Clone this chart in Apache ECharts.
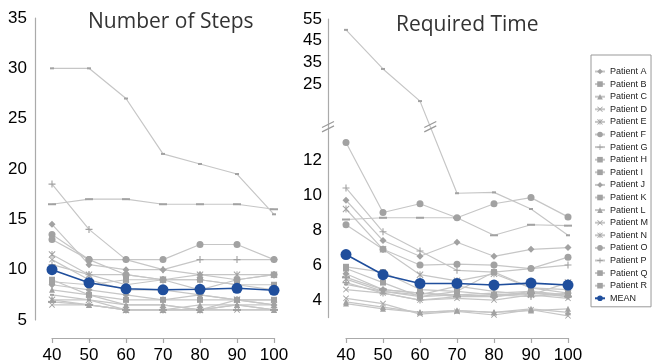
<!DOCTYPE html>
<html lang="en">
<head>
    <meta charset="utf-8">
    <title>Steps and time</title>
    <script src="https://cdn.jsdelivr.net/npm/echarts@6.0.0/dist/echarts.min.js"></script>
</head>
<body style="margin:0; background:#fff;">
<div id="main" style="width: 656px; height: 364px;"></div>
<script type="text/javascript">

    // x positions shared by both panels
    const xValues = [40, 50, 60, 70, 80, 90, 100];

    const patientNames = ['Patient A', 'Patient B', 'Patient C', 'Patient D', 'Patient E', 'Patient F',
        'Patient G', 'Patient H', 'Patient I', 'Patient J', 'Patient K', 'Patient L',
        'Patient M', 'Patient N', 'Patient O', 'Patient P', 'Patient Q', 'Patient R'];

    // Number of Steps, one row per patient (A..R)
    const stepsByPatient = [
        [14.5, 10.5, 10, 10, 9.5, 9, 9.5],
        [9, 7.5, 7, 7, 7, 7, 7],
        [8, 7.5, 6.5, 6.5, 6, 6.5, 6.5],
        [6.5, 6.5, 6, 6, 6, 6, 6],
        [11.5, 9.5, 8.5, 9, 9.5, 9.5, 9.5],
        [13.5, 11, 11, 11, 12.5, 12.5, 11],
        [18.5, 14, 11, 10, 11, 11, 11],
        [30, 30, 27, 21.5, 20.5, 19.5, 15.5],
        [16.5, 17, 17, 16.5, 16.5, 16.5, 16],
        [8.5, 8, 7.5, 7, 7.5, 7, 6.5],
        [8.8, 8.5, 9, 9, 9, 8.5, 8.5],
        [7, 6.5, 6, 6, 6.5, 6.5, 6],
        [11, 9, 8, 8, 7.5, 7, 7],
        [7, 7, 6, 6, 6, 7, 6.5],
        [13, 11, 9.5, 9, 8, 9, 9.5],
        [10.5, 9.5, 9.5, 9, 9, 8.5, 8],
        [7.5, 7, 6.5, 6.5, 6, 6.5, 6],
        [6.8, 6.5, 6, 6, 6, 6, 6]
    ];
    const meanSteps = [10, 8.7, 8.1, 8.0, 8.05, 8.15, 7.95];

    // Required Time, one row per patient (A..R)
    const timeByPatient = [
        [9.7, 7.4, 6.5, 7.3, 6.5, 6.9, 7.0],
        [5.9, 5.6, 4.6, 4.5, 4.3, 4.4, 4.3],
        [3.8, 3.5, 3.3, 3.4, 3.3, 3.4, 3.5],
        [4.1, 3.8, 3.2, 3.35, 3.15, 3.45, 3.1],
        [9.2, 6.9, 5.45, 5.1, 5.5, 4.7, 4.4],
        [13, 9.0, 9.5, 8.7, 9.5, 9.85, 8.75],
        [10.4, 7.9, 6.8, 5.7, 5.6, 5.8, 6.0],
        [50, 32, 17.2, 10.1, 10.15, 9.2, 7.7],
        [8.6, 8.7, 8.7, 8.7, 7.7, 8.3, 8.25],
        [5.5, 4.6, 4.4, 4.3, 4.2, 4.5, 4.2],
        [5.8, 5.0, 4.2, 4.5, 5.6, 4.7, 4.6],
        [3.9, 3.6, 3.3, 3.4, 3.3, 3.5, 3.3],
        [4.6, 4.4, 4.0, 4.1, 4.0, 4.3, 4.1],
        [5.2, 4.5, 4.3, 4.8, 4.5, 4.3, 5.0],
        [8.3, 6.9, 6.0, 6.05, 6.0, 5.8, 6.45],
        [5.0, 4.4, 4.0, 4.2, 4.3, 4.2, 4.4],
        [4.9, 4.5, 4.2, 4.3, 4.4, 4.5, 4.3],
        [5.3, 4.6, 4.4, 4.2, 4.2, 4.4, 4.2]
    ];
    const meanTime = [6.6, 5.45, 4.95, 4.95, 4.86, 4.97, 4.86];

    const stepTicks = [5, 10, 15, 20, 25, 30, 35];
    const timeTicks = [4, 6, 8, 10, 12, 25, 35, 45, 55];

    // broken time axis: above BREAK_LO the scale is squeezed
    const BREAK_LO = 15.1;
    const SQUEEZE = 0.124;
    const BREAK_MARK = 13.9;
    function squeeze(v) {
        return v <= BREAK_LO ? v : BREAK_LO + (v - BREAK_LO) * SQUEEZE;
    }

    const X_ = 'path://M1,0 L10,9 L9,10 L0,1 Z M9,0 L10,1 L1,10 L0,9 Z';
    const STAR = 'path://M1,0 L10,9 L9,10 L0,1 Z M9,0 L10,1 L1,10 L0,9 Z M4.3,0 L5.7,0 L5.7,10 L4.3,10 Z';
    const PLUS = 'path://M4.2,0 L5.8,0 L5.8,10 L4.2,10 Z M0,4.2 L10,4.2 L10,5.8 L0,5.8 Z';
    const markers = [
        ['diamond', 7], ['rect', 6], ['triangle', 6], [X_, 6], [STAR, 7],
        ['circle', 7], [PLUS, 7], ['rect', [4, 2]], ['rect', [8, 2]]
    ];

    const GRID_L = {left: 52, top: 18, width: 222, height: 302};
    const GRID_R = {left: 346, top: 19, width: 222, height: 298.6};
    const labelFont = {fontSize: 17, color: '#000', fontFamily: 'Liberation Sans'};

    function pairs(vals, f) {
        return xValues.map((x, j) => [x, f ? f(vals[j]) : vals[j]]);
    }

    let series = [];
    patientNames.forEach((name, i) => {
        const m = markers[i % 9];
        const base = {
            name: name,
            type: 'line',
            symbol: m[0],
            symbolSize: m[1],
            showSymbol: true,
            lineStyle: {color: '#c6c6c6', width: 1.2},
            itemStyle: {color: '#a2a2a2'},
            emphasis: {disabled: true},
            animation: false
        };
        series.push(Object.assign({}, base, {xAxisIndex: 0, yAxisIndex: 0, data: pairs(stepsByPatient[i])}));
        series.push(Object.assign({}, base, {xAxisIndex: 1, yAxisIndex: 1, data: pairs(timeByPatient[i], squeeze)}));
    });
    const meanBase = {
        name: 'MEAN', type: 'line', symbol: 'circle', symbolSize: 11, z: 5,
        lineStyle: {color: '#1f4e9c', width: 1.6},
        itemStyle: {color: '#1f4e9c'},
        emphasis: {disabled: true}, animation: false
    };
    series.push(Object.assign({}, meanBase, {xAxisIndex: 0, yAxisIndex: 0, data: pairs(meanSteps)}));
    series.push(Object.assign({}, meanBase, {xAxisIndex: 1, yAxisIndex: 1, data: pairs(meanTime, squeeze)}));

    function xAxisOf(gi, off) {
        return {
            type: 'value', gridIndex: gi, min: 40, max: 100, interval: 10, offset: off,
            axisLine: {lineStyle: {color: '#aaa', width: 1.2}},
            axisTick: {show: true, length: 5, lineStyle: {color: '#aaa', width: 1.2}},
            axisLabel: Object.assign({margin: 9}, labelFont),
            splitLine: {show: false}
        };
    }

    const option = {
        animation: false,
        title: [
            {text: 'Number of Steps', left: 83, top: 7,
                textStyle: {fontFamily: 'Open Sans', fontWeight: 'normal', fontSize: 21, color: '#333'}},
            {text: 'Required Time', left: 391, top: 10,
                textStyle: {fontFamily: 'Open Sans', fontWeight: 'normal', fontSize: 21, color: '#333'}}
        ],
        legend: {
            data: patientNames.concat(['MEAN']),
            orient: 'vertical',
            left: 591, top: 55,
            itemWidth: 10, itemHeight: 7, itemGap: 1.6,
            padding: [11, 3, 3, 3],
            borderColor: '#999', borderWidth: 1,
            textStyle: {fontSize: 9, lineHeight: 11, color: '#222', fontFamily: 'Liberation Sans'},
            selectedMode: false
        },
        grid: [GRID_L, GRID_R],
        xAxis: [xAxisOf(0, 18), xAxisOf(1, 20.4)],
        yAxis: [
            {
                type: 'value', gridIndex: 0, min: stepTicks[0], max: stepTicks[stepTicks.length - 1], interval: 5, offset: 17,
                axisLine: {show: true, lineStyle: {color: '#aaa', width: 1.2}},
                axisTick: {show: false},
                axisLabel: Object.assign({margin: 8}, labelFont),
                splitLine: {show: false}
            },
            {
                type: 'value', gridIndex: 1, min: 3, max: squeeze(55), offset: 18,
                axisLine: {show: true, lineStyle: {color: '#aaa', width: 1.2}},
                axisTick: {show: false},
                axisLabel: Object.assign({
                    margin: 6,
                    customValues: timeTicks.map(squeeze),
                    formatter: function (val) {
                        let best = timeTicks[0];
                        timeTicks.forEach(t => { if (Math.abs(squeeze(t) - val) < Math.abs(squeeze(best) - val)) best = t; });
                        return String(best);
                    }
                }, labelFont),
                splitLine: {show: false}
            }
        ],
        series: series
    };

    const myChart = echarts.init(document.getElementById('main'));
    myChart.setOption(option);

    // break marks "//" on the time axis and on the line that crosses the break
    function slashes(cx, cy) {
        const out = [];
        [-2.2, 2.2].forEach(d => {
            out.push({
                type: 'line', silent: true, z: 10,
                shape: {x1: cx - 6, y1: cy + d + 3, x2: cx + 6, y2: cy + d - 3},
                style: {stroke: '#999', lineWidth: 1.2}
            });
        });
        return out;
    }
    const axisX = GRID_R.left - 18;
    const axisY = myChart.convertToPixel({yAxisIndex: 1}, BREAK_MARK);
    let marks = slashes(axisX, axisY);
    const h = timeByPatient[7];
    for (let j = 0; j < xValues.length - 1; j++) {
        const a = squeeze(h[j]), b = squeeze(h[j + 1]);
        if (a > BREAK_MARK && b < BREAK_MARK) {
            const xv = xValues[j] + (a - BREAK_MARK) / (a - b) * (xValues[j + 1] - xValues[j]);
            const p = myChart.convertToPixel({gridIndex: 1}, [xv, BREAK_MARK]);
            marks = marks.concat(slashes(p[0], p[1]));
        }
    }
    myChart.setOption({graphic: marks});
</script>
</body>
</html>
